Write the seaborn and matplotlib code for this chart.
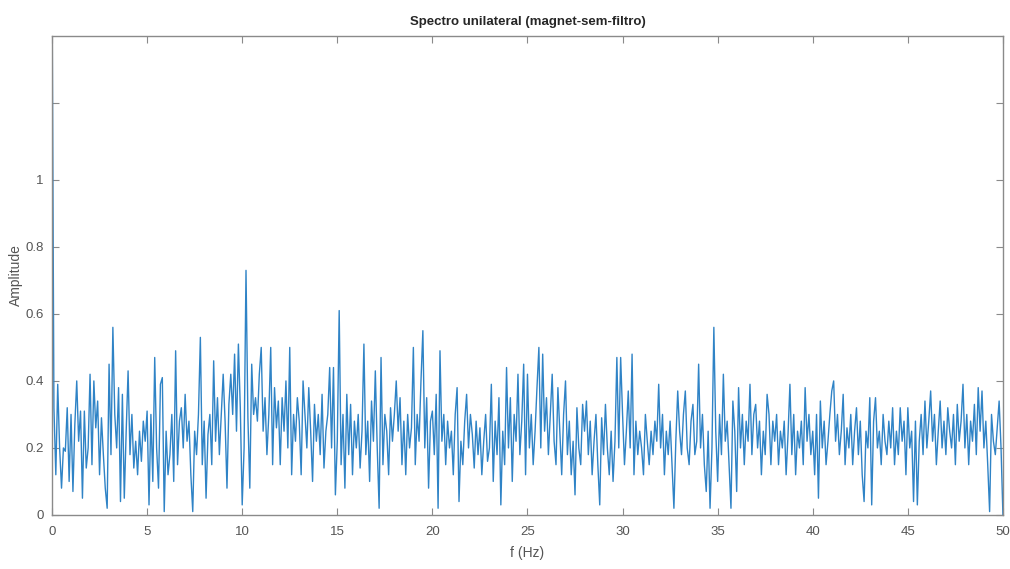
"""
Spectro unilateral (magnet-sem-filtro) - recriação do gráfico
"""

import numpy as np
import pandas as pd
import matplotlib
matplotlib.use('Agg')
import matplotlib.pyplot as plt
import seaborn as sns

# Amplitudes, uma linha por Hz (passo de 0.1 Hz)
amp_rows = [
    [1.60, 0.32, 0.12, 0.39, 0.20, 0.08, 0.20, 0.19, 0.32, 0.10],  # 0 Hz
    [0.30, 0.07, 0.27, 0.40, 0.22, 0.31, 0.05, 0.31, 0.14, 0.20],
    [0.42, 0.15, 0.40, 0.26, 0.34, 0.12, 0.29, 0.18, 0.08, 0.02],
    [0.45, 0.18, 0.56, 0.30, 0.20, 0.38, 0.04, 0.36, 0.05, 0.25],
    [0.43, 0.18, 0.30, 0.14, 0.22, 0.12, 0.25, 0.16, 0.28, 0.22],
    [0.31, 0.03, 0.30, 0.10, 0.47, 0.20, 0.08, 0.39, 0.41, 0.01],  # 5 Hz
    [0.25, 0.12, 0.18, 0.30, 0.10, 0.49, 0.15, 0.28, 0.32, 0.20],
    [0.36, 0.22, 0.28, 0.12, 0.01, 0.25, 0.18, 0.30, 0.53, 0.15],
    [0.28, 0.05, 0.24, 0.30, 0.15, 0.46, 0.22, 0.35, 0.18, 0.30],
    [0.42, 0.28, 0.08, 0.33, 0.42, 0.30, 0.48, 0.25, 0.51, 0.32],
    [0.03, 0.20, 0.73, 0.29, 0.08, 0.45, 0.30, 0.35, 0.28, 0.42],  # 10 Hz
    [0.50, 0.25, 0.35, 0.18, 0.30, 0.50, 0.15, 0.38, 0.26, 0.34],
    [0.15, 0.35, 0.25, 0.40, 0.20, 0.50, 0.12, 0.30, 0.22, 0.35],
    [0.28, 0.12, 0.40, 0.30, 0.20, 0.38, 0.25, 0.10, 0.33, 0.22],
    [0.30, 0.18, 0.36, 0.14, 0.25, 0.30, 0.44, 0.20, 0.44, 0.06],
    [0.22, 0.61, 0.15, 0.30, 0.08, 0.36, 0.18, 0.33, 0.12, 0.28],  # 15 Hz
    [0.20, 0.30, 0.14, 0.25, 0.51, 0.18, 0.28, 0.10, 0.34, 0.22],
    [0.43, 0.20, 0.02, 0.47, 0.15, 0.30, 0.25, 0.12, 0.32, 0.22],
    [0.30, 0.40, 0.25, 0.35, 0.15, 0.28, 0.12, 0.30, 0.20, 0.26],
    [0.50, 0.15, 0.30, 0.22, 0.40, 0.55, 0.20, 0.35, 0.08, 0.28],
    [0.31, 0.18, 0.36, 0.02, 0.49, 0.22, 0.30, 0.15, 0.28, 0.20],  # 20 Hz
    [0.25, 0.12, 0.30, 0.38, 0.04, 0.22, 0.15, 0.28, 0.36, 0.20],
    [0.30, 0.24, 0.14, 0.28, 0.18, 0.26, 0.12, 0.22, 0.30, 0.16],
    [0.20, 0.39, 0.10, 0.28, 0.18, 0.35, 0.03, 0.25, 0.15, 0.44],
    [0.20, 0.35, 0.10, 0.30, 0.22, 0.42, 0.18, 0.28, 0.45, 0.12],
    [0.42, 0.20, 0.30, 0.15, 0.25, 0.38, 0.50, 0.20, 0.48, 0.25],  # 25 Hz
    [0.35, 0.18, 0.30, 0.42, 0.22, 0.15, 0.38, 0.25, 0.12, 0.30],
    [0.40, 0.18, 0.28, 0.12, 0.22, 0.06, 0.32, 0.20, 0.15, 0.33],
    [0.25, 0.34, 0.18, 0.28, 0.12, 0.22, 0.30, 0.15, 0.03, 0.29],
    [0.18, 0.33, 0.20, 0.12, 0.25, 0.10, 0.22, 0.47, 0.20, 0.47],
    [0.30, 0.15, 0.25, 0.37, 0.20, 0.48, 0.12, 0.28, 0.18, 0.25],  # 30 Hz
    [0.20, 0.12, 0.30, 0.22, 0.15, 0.25, 0.18, 0.28, 0.22, 0.39],
    [0.20, 0.30, 0.12, 0.25, 0.18, 0.28, 0.15, 0.02, 0.22, 0.37],
    [0.25, 0.18, 0.30, 0.37, 0.20, 0.15, 0.28, 0.33, 0.18, 0.22],
    [0.45, 0.20, 0.30, 0.15, 0.07, 0.25, 0.02, 0.20, 0.56, 0.25],
    [0.10, 0.30, 0.18, 0.42, 0.22, 0.28, 0.15, 0.02, 0.34, 0.25],  # 35 Hz
    [0.07, 0.38, 0.20, 0.30, 0.15, 0.28, 0.22, 0.39, 0.18, 0.30],
    [0.33, 0.20, 0.28, 0.12, 0.25, 0.18, 0.36, 0.30, 0.15, 0.28],
    [0.22, 0.30, 0.15, 0.25, 0.20, 0.28, 0.12, 0.24, 0.39, 0.18],
    [0.30, 0.12, 0.25, 0.20, 0.28, 0.15, 0.38, 0.22, 0.30, 0.18],
    [0.25, 0.12, 0.30, 0.05, 0.34, 0.20, 0.28, 0.15, 0.22, 0.30],  # 40 Hz
    [0.37, 0.40, 0.22, 0.30, 0.18, 0.25, 0.36, 0.15, 0.26, 0.20],
    [0.30, 0.15, 0.25, 0.32, 0.18, 0.28, 0.12, 0.04, 0.25, 0.20],
    [0.35, 0.03, 0.28, 0.35, 0.20, 0.25, 0.15, 0.30, 0.22, 0.18],
    [0.28, 0.20, 0.32, 0.15, 0.25, 0.18, 0.32, 0.22, 0.28, 0.12],
    [0.32, 0.20, 0.25, 0.04, 0.28, 0.03, 0.22, 0.30, 0.18, 0.34],  # 45 Hz
    [0.20, 0.28, 0.37, 0.22, 0.30, 0.15, 0.25, 0.34, 0.20, 0.28],
    [0.18, 0.32, 0.25, 0.20, 0.30, 0.15, 0.33, 0.22, 0.28, 0.39],
    [0.20, 0.30, 0.15, 0.28, 0.22, 0.33, 0.18, 0.38, 0.25, 0.37],
    [0.20, 0.28, 0.15, 0.01, 0.30, 0.22, 0.18, 0.26, 0.34, 0.20],
    [0.00],                                                        # 50 Hz
]
amplitude = [v for row in amp_rows for v in row]
freq_step = 0.1
freq = [round(i * freq_step, 1) for i in range(len(amplitude))]

x_ticks = [0, 5, 10, 15, 20, 25, 30, 35, 40, 45, 50]
y_ticks = [0, 0.2, 0.4, 0.6, 0.8, 1.0, 1.23]
y_tick_labels = ['0', '0.2', '0.4', '0.6', '0.8', '1', '']

df = pd.DataFrame({'f': freq, 'amp': amplitude})

sns.set_theme(style='white')
plt.rcParams['font.family'] = ['Liberation Sans', 'DejaVu Sans']

fig = plt.figure(figsize=(10.1, 5.69), dpi=100)
ax = fig.add_axes([0.0515, 0.095, 0.9415, 0.842])

sns.lineplot(data=df, x='f', y='amp', ax=ax, color='#2f83c6',
             linewidth=1.0, estimator=None, errorbar=None)

ax.set_xlim(0, 50)
ax.set_ylim(0, 1.43)
ax.set_xticks(x_ticks)
ax.set_xticklabels([str(t) for t in x_ticks])
ax.set_yticks(y_ticks)
ax.set_yticklabels(y_tick_labels)

axis_grey = '#8a8a8a'
for side in ['left', 'right', 'top', 'bottom']:
    ax.spines[side].set_visible(True)
    ax.spines[side].set_color(axis_grey)
    ax.spines[side].set_linewidth(1.0)
ax.tick_params(axis='both', which='both', direction='in', length=5, width=0.8,
               color=axis_grey, labelcolor='#555555', labelsize=9.5,
               top=True, right=True, bottom=True, left=True)
ax.tick_params(axis='x', pad=8)
ax.tick_params(axis='y', pad=6)

ax.set_title('Spectro unilateral (magnet-sem-filtro)', fontsize=9.5,
             fontweight='bold', color='#262626', pad=8)
ax.set_xlabel('f (Hz)', fontsize=10, color='#555555', labelpad=6)
ax.set_ylabel('Amplitude', fontsize=10, color='#555555', labelpad=2)

fig.savefig('out.png', dpi=100, facecolor='white')
